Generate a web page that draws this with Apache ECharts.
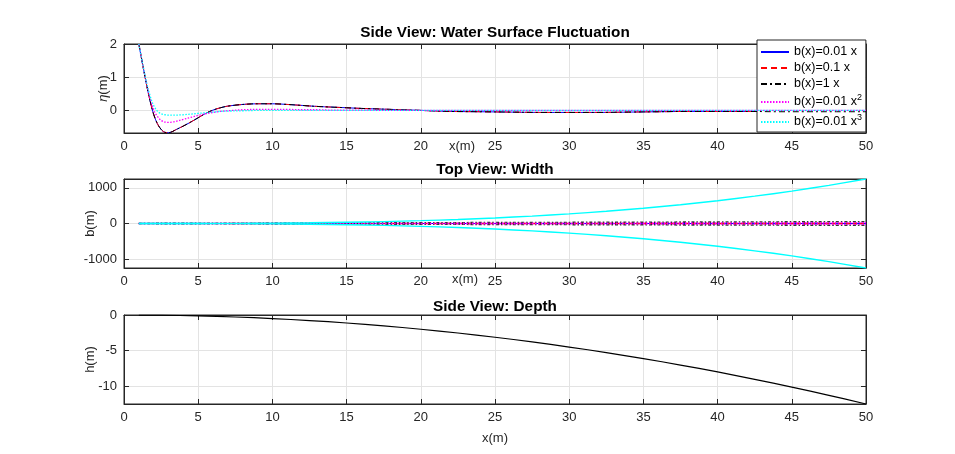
<!DOCTYPE html>
<html lang="en">
<head>
    <meta charset="UTF-8">
    <title>Water surface, width and depth</title>
    <script src="https://cdn.jsdelivr.net/npm/echarts@6/dist/echarts.min.js"></script>
    <style>
        html, body { margin: 0; padding: 0; background: #fff; }
        #main { width: 955px; height: 454px; }
    </style>
</head>
<body>
<div id="main"></div>
<script>
    // x positions of the surface samples
    const xEta = [1, 1.25, 1.5, 1.75, 2, 2.25, 2.5, 2.75, 3, 3.25, 3.5, 4, 4.5, 5, 5.5, 6, 6.5, 7, 8, 9,
        10, 11, 12, 13, 14, 15, 16, 18, 20, 22, 24, 26, 28, 30, 32, 34, 36, 38, 40, 42, 44, 46, 48, 50];
    // eta(x) for each width law
    const etaB001 = [2.0, 1.4, 0.82, 0.3, -0.12, -0.4, -0.57, -0.66, -0.67, -0.64, -0.58, -0.47, -0.35, -0.22, -0.09, 0.01, 0.08, 0.13, 0.18, 0.2,
        0.2, 0.18, 0.15, 0.12, 0.1, 0.08, 0.06, 0.03, 0.0, -0.03, -0.04, -0.05, -0.06, -0.06, -0.06, -0.05, -0.04, -0.03, -0.03, -0.03, -0.04, -0.04, -0.04, -0.04];
    const etaB01 = [2.0, 1.4, 0.82, 0.3, -0.12, -0.4, -0.57, -0.66, -0.67, -0.64, -0.58, -0.47, -0.35, -0.22, -0.09, 0.01, 0.08, 0.13, 0.18, 0.2,
        0.2, 0.18, 0.15, 0.12, 0.1, 0.08, 0.06, 0.03, 0.0, -0.03, -0.04, -0.05, -0.06, -0.06, -0.06, -0.05, -0.04, -0.03, -0.03, -0.03, -0.04, -0.04, -0.04, -0.04];
    const etaB1 = [2.0, 1.4, 0.82, 0.3, -0.12, -0.4, -0.57, -0.66, -0.67, -0.64, -0.58, -0.47, -0.35, -0.22, -0.09, 0.01, 0.08, 0.13, 0.18, 0.2,
        0.2, 0.18, 0.15, 0.12, 0.1, 0.08, 0.06, 0.03, 0.0, -0.03, -0.04, -0.05, -0.06, -0.06, -0.06, -0.05, -0.04, -0.03, -0.03, -0.03, -0.04, -0.04, -0.04, -0.04];
    const etaSq = [2.0, 1.4, 0.85, 0.38, 0.02, -0.18, -0.3, -0.35, -0.36, -0.35, -0.33, -0.27, -0.21, -0.15, -0.1, -0.06, -0.03, -0.01, 0.02, 0.03,
        0.03, 0.03, 0.02, 0.02, 0.01, 0.01, 0.01, 0.0, 0.0, 0.0, 0.0, 0.0, 0.0, 0.0, 0.0, 0.0, 0.0, 0.0, 0.0, 0.0, 0.0, 0.0, 0.0, 0.0];
    const etaCube = [2.0, 1.42, 0.88, 0.45, 0.15, -0.02, -0.1, -0.13, -0.14, -0.14, -0.14, -0.13, -0.11, -0.09, -0.07, -0.05, -0.03, -0.02, -0.01, 0.0,
        0.0, 0.0, 0.0, 0.0, 0.0, 0.0, 0.0, 0.0, 0.0, 0.0, 0.0, 0.0, 0.0, 0.0, 0.0, 0.0, 0.0, 0.0, 0.0, 0.0, 0.0, 0.0, 0.0, 0.0];

    // width and depth samples
    const xW = [1, 2.5, 5, 7.5, 10, 12.5, 15, 17.5, 20, 22.5, 25, 27.5, 30, 32.5, 35, 37.5, 40, 42.5, 45, 47.5, 50];
    const wB001 = [0.01, 0.025, 0.05, 0.075, 0.1, 0.125, 0.15, 0.175, 0.2, 0.225, 0.25, 0.275, 0.3, 0.325, 0.35, 0.375, 0.4, 0.425, 0.45, 0.475, 0.5];
    const wB01 = [0.1, 0.25, 0.5, 0.75, 1, 1.25, 1.5, 1.75, 2, 2.25, 2.5, 2.75, 3, 3.25, 3.5, 3.75, 4, 4.25, 4.5, 4.75, 5];
    const wB1 = [1, 2.5, 5, 7.5, 10, 12.5, 15, 17.5, 20, 22.5, 25, 27.5, 30, 32.5, 35, 37.5, 40, 42.5, 45, 47.5, 50];
    const wSq = [0.01, 0.06, 0.25, 0.56, 1, 1.56, 2.25, 3.06, 4, 5.06, 6.25, 7.56, 9, 10.56, 12.25, 14.06, 16, 18.06, 20.25, 22.56, 25];
    const wCube = [0.01, 0.16, 1.25, 4.2, 10, 19.5, 34, 54, 80, 114, 156, 208, 270, 343, 429, 527, 640, 768, 911, 1072, 1250];
    const depth = [-0.005, -0.03, -0.125, -0.28, -0.5, -0.78, -1.125, -1.53, -2, -2.53, -3.125, -3.78, -4.5, -5.28, -6.125, -7.03, -8, -9.03, -10.125, -11.28, -12.5];

    const legendNames = ['b(x)=0.01 x', 'b(x)=0.1 x', 'b(x)=1 x', 'b(x)=0.01 x^2', 'b(x)=0.01 x^3'];
    const yTicks = [[0, 1, 2], [-1000, 0, 1000], [-10, -5, 0]];
    const yRange = [[-0.68, 2], [-1250, 1250], [-12.5, 0]];

    const font = '"Liberation Sans", Helvetica, Arial, sans-serif';
    const axisCol = '#262626';

    function zip(xs, ys, sign) {
        return xs.map((x, i) => [x, (sign || 1) * ys[i]]);
    }

    let myChart = echarts.init(document.getElementById('main'));

    let grids = [], xAxes = [], yAxes = [];
    let tops = [44, 179, 315];
    tops.forEach(function (t, g) {
        grids.push({left: 124, top: t, width: 742, height: 89, show: true,
            borderColor: axisCol, borderWidth: 1, backgroundColor: '#fff'});
        // bottom x axis with labels, top one only for inner ticks
        [false, true].forEach(function (isTop) {
            xAxes.push({
                type: 'value', gridIndex: g, min: 0, max: 50, interval: 5,
                position: isTop ? 'top' : 'bottom',
                axisLine: {show: true, onZero: false, lineStyle: {color: axisCol}},
                axisTick: {show: true, inside: true, length: 5, lineStyle: {color: axisCol}},
                axisLabel: {show: !isTop, margin: 7, color: axisCol, fontSize: 13, fontFamily: font},
                splitLine: {show: !isTop, lineStyle: {color: '#e3e3e3'}}
            });
        });
        [false, true].forEach(function (isRight) {
            yAxes.push({
                type: 'value', gridIndex: g, min: yRange[g][0], max: yRange[g][1],
                position: isRight ? 'right' : 'left',
                nameMoveOverlap: false,
                axisLine: {show: true, onZero: false, lineStyle: {color: axisCol}},
                axisTick: {show: true, inside: true, length: 5, customValues: yTicks[g], lineStyle: {color: axisCol}},
                axisLabel: {show: !isRight, margin: 7, customValues: yTicks[g], color: axisCol, fontSize: 13, fontFamily: font,
                    formatter: function (v) { return String(v); }},
                splitLine: {show: !isRight, lineStyle: {color: '#e3e3e3'}}
            });
        });
    });
    yAxes[0].name = '{i|η}(m)';
    yAxes[0].nameGap = 14;
    yAxes[2].name = 'b(m)';
    yAxes[2].nameGap = 27;
    yAxes[4].name = 'h(m)';
    yAxes[4].nameGap = 27;
    [0, 2, 4].forEach(function (i) {
        yAxes[i].nameLocation = 'middle';
        yAxes[i].nameTextStyle = {color: axisCol, fontSize: 13, fontFamily: font,
            rich: {i: {fontStyle: 'italic', fontSize: 13, fontFamily: font, color: axisCol}}};
    });
    xAxes[4].name = 'x(m)';
    xAxes[4].nameLocation = 'middle';
    xAxes[4].nameGap = 28;
    xAxes[4].nameMoveOverlap = false;
    xAxes[4].nameTextStyle = {color: axisCol, fontSize: 13, fontFamily: font};

    const styles = [
        {color: '#0000ff', type: 'solid', width: 1},
        {color: '#ff0000', type: [6, 4], width: 1},
        {color: '#000000', type: [6, 3, 2, 3], width: 1},
        {color: '#ff00ff', type: [1.5, 1.5], width: 1.3},
        {color: '#00ffff', type: [1.5, 1.5], width: 1.3}
    ];
    // the width panel looks denser in the picture
    const wStyles = [
        {color: '#0000ff', type: 'solid', width: 1.2},
        {color: '#ff0000', type: [4, 3], width: 1.2},
        {color: '#333333', type: [3, 2, 1.5, 2], width: 1.6},
        {color: '#ff00ff', type: [1.5, 1.5], width: 1.4},
        {color: '#00ffff', type: 'solid', width: 1.4}
    ];
    const etas = [etaB001, etaB01, etaB1, etaSq, etaCube];
    const widths = [wB001, wB01, wB1, wSq, wCube];

    let series = [];
    legendNames.forEach(function (name, k) {
        series.push({
            name: name, type: 'line', xAxisIndex: 0, yAxisIndex: 0,
            data: zip(xEta, etas[k]), smooth: 0.35, showSymbol: false, symbol: 'none',
            lineStyle: styles[k], itemStyle: {color: styles[k].color}, z: 2 + k, animation: false
        });
    });
    legendNames.forEach(function (name, k) {
        [1, -1].forEach(function (s) {
            series.push({
                name: name, type: 'line', xAxisIndex: 2, yAxisIndex: 2,
                data: zip(xW, widths[k], s), smooth: 0.35, showSymbol: false, symbol: 'none',
                lineStyle: wStyles[k], itemStyle: {color: wStyles[k].color}, z: 2 + k, animation: false
            });
        });
    });
    series.push({
        name: 'h', type: 'line', xAxisIndex: 4, yAxisIndex: 4,
        data: zip(xW, depth), smooth: 0.35, showSymbol: false, symbol: 'none',
        lineStyle: {color: '#000', width: 1.2}, animation: false
    });

    const titleStyle = {color: '#000', fontSize: 15.3, fontWeight: 'bold', fontFamily: font};
    let option = {
        animation: false,
        title: [
            {text: 'Side View: Water Surface Fluctuation', left: 495, top: 25, textAlign: 'center', textStyle: titleStyle, padding: 0},
            {text: 'Top View: Width', left: 495, top: 162, textAlign: 'center', textStyle: titleStyle, padding: 0},
            {text: 'Side View: Depth', left: 495, top: 299, textAlign: 'center', textStyle: titleStyle, padding: 0}
        ],
        legend: {
            data: legendNames, orient: 'vertical', left: 757, top: 40,
            backgroundColor: '#fff', borderColor: axisCol, borderWidth: 1,
            padding: [5, 4, 1, 3], itemGap: 2, itemWidth: 28, itemHeight: 12,
            itemStyle: {opacity: 0},
            formatter: function (name) {
                // x^2 -> superscript
                return name.replace(/\^(\d)/, '{sup|$1}');
            },
            textStyle: {
                color: '#000', fontSize: 12.5, fontFamily: font, lineHeight: 14,
                rich: {sup: {fontSize: 9, fontFamily: font, color: '#000', verticalAlign: 'top', lineHeight: 18}}
            }
        },
        graphic: [
            {type: 'text', left: 449, top: 140, style: {text: 'x(m)', fill: axisCol, font: '13px ' + font}},
            {type: 'text', left: 452, top: 273, style: {text: 'x(m)', fill: axisCol, font: '13px ' + font}}
        ],
        grid: grids,
        xAxis: xAxes,
        yAxis: yAxes,
        series: series
    };
    myChart.setOption(option);
</script>
</body>
</html>
